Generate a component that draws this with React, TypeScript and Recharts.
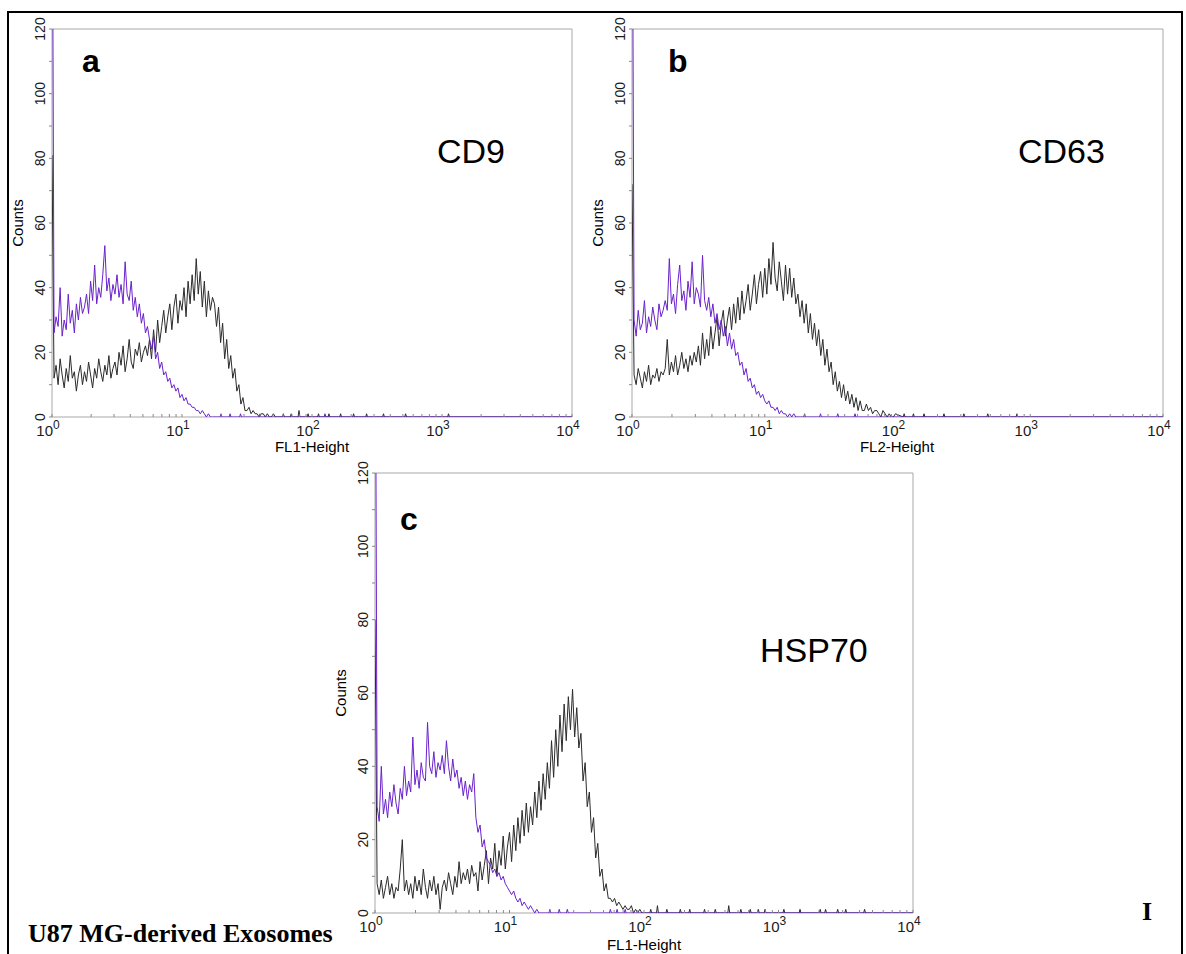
import { LineChart, Line, XAxis, YAxis, ReferenceArea } from 'recharts';

// histogram counts, one value per 1/64 decade starting at 10^0
const aPurple = [
  200, 26, 31, 28, 40, 25, 30, 27, 38, 29, 33, 26, 35, 30, 37, 32,
  34, 38, 32, 42, 36, 47, 35, 40, 37, 44, 53, 39, 43, 36, 41, 38,
  44, 37, 41, 35, 48, 38, 36, 42, 33, 37, 31, 35, 29, 32, 26, 28,
  24, 21, 25, 18, 20, 15, 17, 13, 14, 11, 12, 9, 10, 8, 9, 6,
  7, 5, 6, 4, 4, 3, 3, 2, 2, 1, 2, 1, 0, 1, 0, 0,
];
const aBlack = [
  81, 12, 16, 10, 18, 13, 9, 15, 11, 19, 12, 14, 8, 13, 16, 10,
  14, 11, 17, 13, 9, 15, 12, 18, 14, 11, 16, 13, 19, 12, 15, 17,
  13, 20, 16, 22, 14, 18, 24, 17, 15, 21, 19, 23, 17, 20, 22, 19,
  24, 18, 27, 20, 30, 23, 28, 33, 26, 31, 35, 27, 34, 38, 29, 36,
  33, 40, 31, 42, 35, 44, 36, 49, 38, 45, 34, 42, 31, 39, 33, 37,
  35, 28, 34, 23, 29, 18, 24, 15, 19, 12, 15, 8, 10, 4, 6, 2,
  2, 3, 1, 2, 1, 1, 0, 1, 1, 0, 1, 0, 0, 1, 0, 0,
];
const bPurple = [
  200, 30, 25, 33, 27, 29, 36, 26, 31, 28, 34, 30, 27, 35, 31, 33,
  36, 33, 49, 35, 38, 32, 41, 47, 36, 39, 33, 42, 37, 48, 35, 40,
  38, 34, 50, 36, 33, 37, 31, 35, 29, 32, 27, 30, 25, 28, 22, 26,
  21, 24, 19, 20, 16, 17, 13, 15, 11, 12, 9, 10, 7, 8, 6, 7,
  5, 4, 5, 3, 3, 2, 3, 1, 2, 1, 1, 0, 1, 0, 1, 0,
];
const bBlack = [
  72, 13, 10, 15, 12, 9, 14, 11, 16, 10, 13, 12, 15, 11, 14, 13,
  15, 24, 13, 17, 14, 19, 13, 16, 20, 15, 18, 14, 19, 16, 20, 17,
  22, 16, 26, 18, 24, 19, 28, 21, 26, 31, 22, 29, 33, 25, 30, 34,
  27, 35, 29, 37, 30, 39, 32, 36, 41, 33, 38, 44, 35, 41, 45, 37,
  46, 38, 49, 41, 54, 43, 39, 48, 42, 36, 47, 38, 46, 37, 43, 35,
  38, 31, 36, 29, 35, 26, 32, 24, 29, 22, 27, 19, 24, 16, 21, 14,
  17, 10, 14, 8, 11, 6, 10, 5, 8, 4, 7, 3, 6, 2, 5, 2,
  2, 4, 2, 3, 1, 2, 2, 1, 0, 2, 1, 0, 1, 0, 0, 1,
];
const cPurple = [
  200, 29, 25, 40, 27, 31, 26, 33, 29, 35, 30, 27, 34, 31, 40, 32,
  36, 33, 48, 35, 39, 34, 41, 37, 36, 52, 40, 38, 44, 37, 41, 39,
  43, 38, 47, 40, 36, 42, 37, 39, 34, 37, 32, 36, 31, 35, 33, 38,
  26, 22, 24, 18, 20, 15, 14, 13, 11, 12, 10, 11, 9, 10, 8, 7,
  6, 5, 6, 4, 3, 4, 2, 3, 2, 1, 2, 1, 0, 1, 0, 0,
];
const cBlack = [
  80, 8, 5, 9, 4, 7, 10, 5, 8, 4, 7, 6, 12, 20, 6, 9,
  5, 8, 4, 10, 6, 9, 5, 12, 7, 4, 9, 6, 10, 5, 8, 1,
  7, 9, 6, 11, 8, 5, 10, 7, 14, 8, 11, 9, 12, 8, 13, 10,
  11, 6, 14, 9, 13, 17, 8, 15, 12, 19, 10, 17, 13, 21, 12, 18,
  22, 14, 24, 17, 26, 19, 28, 21, 30, 22, 29, 24, 33, 26, 36, 28,
  38, 31, 41, 34, 47, 37, 50, 40, 54, 44, 57, 47, 59, 50, 61, 48,
  56, 45, 49, 36, 41, 29, 33, 22, 26, 15, 19, 10, 12, 6, 8, 4,
  4, 3, 4, 2, 3, 2, 1, 2, 1, 1, 2, 0, 1, 0, 1, 0,
];

// isolated single events further out: [decade, count]
const aPurpleBlips = [[1.3, 1], [1.37, 1], [1.45, 1], [1.6, 1], [2.1, 1]];
const aBlackBlips = [[1.78, 1], [1.84, 1], [1.9, 2], [1.97, 1], [2.05, 1], [2.13, 1], [2.22, 1], [2.32, 1], [2.42, 1], [2.55, 1], [2.72, 1], [3.05, 1]];
const bPurpleBlips = [[1.3, 1], [1.42, 1], [1.55, 1], [1.68, 1]];
const bBlackBlips = [[2.05, 1], [2.12, 1], [2.2, 1], [2.35, 1], [2.5, 1], [2.68, 1], [2.9, 1]];
const cPurpleBlips = [[1.3, 1], [1.37, 1], [1.43, 1], [1.75, 1], [1.8, 1], [1.86, 1]];
const cBlackBlips = [[2.05, 1], [2.1, 2], [2.17, 1], [2.27, 1], [2.34, 1], [2.45, 1], [2.53, 1], [2.63, 2], [2.72, 1], [2.79, 1], [2.85, 1], [2.9, 1], [3.04, 1], [3.16, 1], [3.31, 1], [3.35, 1], [3.44, 1], [3.5, 1], [3.64, 1]];

const countTicks = [0, 10, 20, 30, 40, 50, 60, 70, 80, 90, 100, 110, 120];
const decades = [1, 10, 100, 1000];
const flTicks = [...decades.flatMap((d) => [1, 2, 3, 4, 5, 6, 7, 8, 9].map((m) => m * d)), 10000];

const CH = 1 / 64;
const PURPLE = '#6a22cc';
const BLACK = '#2b2b2b';
const FRAME = '#a8a8a8';
const SANS = '"Liberation Sans", Arial, sans-serif';

type Pt = { fl: number; count: number };

function histogram(counts: number[], blips: number[][]): Pt[] {
  const pts: Pt[] = counts.map((c, i) => ({ fl: Math.pow(10, i * CH), count: c }));
  blips.forEach(([d, c]) => {
    pts.push({ fl: Math.pow(10, d - 0.007), count: 0 });
    pts.push({ fl: Math.pow(10, d), count: c });
    pts.push({ fl: Math.pow(10, d + 0.007), count: 0 });
  });
  pts.push({ fl: 10000, count: 0 });
  return pts;
}

const XTick = ({ x, y, payload }: any) => {
  const lg = Math.log10(payload.value);
  const exp = Math.round(lg);
  const major = Math.abs(lg - exp) < 1e-6;
  return (
    <g>
      <line x1={x} x2={x} y1={y} y2={y - 3} stroke="#888" />
      {major && (
        <>
          <text x={x + 1} y={y + 19} textAnchor="end" fontSize={15} fontFamily={SANS} fill="#1a1a1a">10</text>
          <text x={x + 1} y={y + 12} fontSize={12} fontFamily={SANS} fill="#1a1a1a">{exp}</text>
        </>
      )}
    </g>
  );
};

const YTick = ({ x, y, payload }: any) => {
  const v = payload.value;
  return (
    <g>
      <line x1={x - 3} x2={x} y1={y} y2={y} stroke="#888" />
      {v % 20 === 0 && (
        <text
          x={x - 7}
          y={y}
          transform={`rotate(-90 ${x - 7} ${y})`}
          textAnchor="middle"
          fontSize={14}
          fontFamily={SANS}
          fill="#1a1a1a"
        >
          {v}
        </text>
      )}
    </g>
  );
};

type PanelProps = {
  left: number;
  top: number;
  width: number;
  height: number;
  right: number;
  xAxisHeight: number;
  purple: Pt[];
  black: Pt[];
};

const Panel = ({ left, top, width, height, right, xAxisHeight, purple, black }: PanelProps) => (
  <div style={{ position: 'absolute', left, top }}>
    <LineChart width={width} height={height} margin={{ top: 29, right, bottom: 0, left: 0 }}>
      <ReferenceArea x1={1} x2={10000} y1={0} y2={120} fill="none" stroke={FRAME} strokeWidth={1} />
      <XAxis
        dataKey="fl"
        type="number"
        scale="log"
        domain={[1, 10000]}
        allowDataOverflow
        ticks={flTicks}
        interval={0}
        height={xAxisHeight}
        tickSize={0}
        tickMargin={0}
        tickLine={false}
        axisLine={false}
        tick={<XTick />}
      />
      <YAxis
        type="number"
        domain={[0, 120]}
        allowDataOverflow
        ticks={countTicks}
        interval={0}
        width={52}
        tickSize={0}
        tickMargin={0}
        tickLine={false}
        axisLine={false}
        tick={<YTick />}
      />
      <Line data={black} dataKey="count" type="linear" stroke={BLACK} strokeWidth={1} dot={false} isAnimationActive={false} />
      <Line data={purple} dataKey="count" type="linear" stroke={PURPLE} strokeWidth={1} dot={false} isAnimationActive={false} />
    </LineChart>
  </div>
);

export default function App() {
  return (
    <div style={{ position: 'absolute', left: 0, top: 0, width: 1186, height: 954, overflow: 'hidden', background: '#fff' }}>
      <Panel left={0} top={0} width={600} height={460} right={28} xAxisHeight={43}
        purple={histogram(aPurple, aPurpleBlips)} black={histogram(aBlack, aBlackBlips)} />
      <Panel left={580} top={0} width={600} height={460} right={17} xAxisHeight={43}
        purple={histogram(bPurple, bPurpleBlips)} black={histogram(bBlack, bBlackBlips)} />
      <Panel left={323} top={444} width={600} height={510} right={10} xAxisHeight={41}
        purple={histogram(cPurple, cPurpleBlips)} black={histogram(cBlack, cBlackBlips)} />

      <svg width={1186} height={954} style={{ position: 'absolute', left: 0, top: 0, pointerEvents: 'none' }}>
        <path d="M8 960 L8 12 L1182 12 L1182 960" fill="none" stroke="#000" strokeWidth={2} />

        <text x={82} y={72} fontSize={32} fontWeight="bold" fontFamily={SANS}>a</text>
        <text x={668} y={72} fontSize={32} fontWeight="bold" fontFamily={SANS}>b</text>
        <text x={400} y={530} fontSize={32} fontWeight="bold" fontFamily={SANS}>c</text>

        <text x={437} y={163} fontSize={34} fontFamily={SANS}>CD9</text>
        <text x={1018} y={163} fontSize={34} fontFamily={SANS}>CD63</text>
        <text x={760} y={662} fontSize={34} fontFamily={SANS}>HSP70</text>

        <text x={312} y={452} fontSize={15} textAnchor="middle" fontFamily={SANS}>FL1-Height</text>
        <text x={897} y={452} fontSize={15} textAnchor="middle" fontFamily={SANS}>FL2-Height</text>
        <text x={644} y={950} fontSize={15} textAnchor="middle" fontFamily={SANS}>FL1-Height</text>

        <text x={23} y={223} fontSize={15} textAnchor="middle" fontFamily={SANS} transform="rotate(-90 23 223)">Counts</text>
        <text x={603} y={223} fontSize={15} textAnchor="middle" fontFamily={SANS} transform="rotate(-90 603 223)">Counts</text>
        <text x={346} y={693} fontSize={15} textAnchor="middle" fontFamily={SANS} transform="rotate(-90 346 693)">Counts</text>

        <text x={28} y={942} fontSize={26} fontWeight="bold" fontFamily='"Liberation Serif", "Times New Roman", serif'>U87 MG-derived Exosomes</text>
        <text x={1142} y={920} fontSize={26} fontWeight="bold" fontFamily='"Liberation Serif", "Times New Roman", serif'>I</text>
      </svg>
    </div>
  );
}
